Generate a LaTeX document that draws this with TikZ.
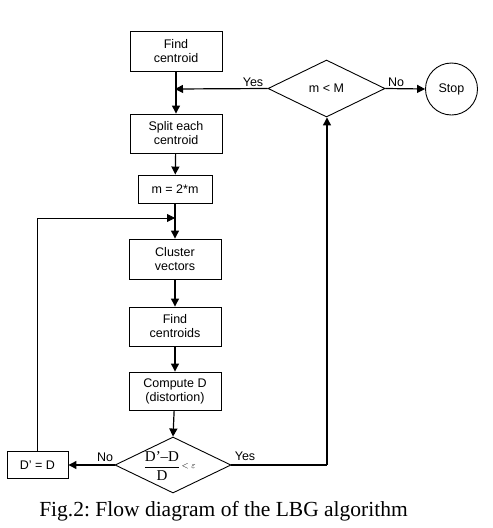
\documentclass[tikz,border=0pt]{standalone}
\usepackage{fontspec}
\setmainfont{Liberation Serif}
\setsansfont{Liberation Sans}
\usetikzlibrary{shapes.geometric,arrows.meta}
\tikzset{
  procbox/.style={draw, line width=0.9pt, inner sep=0pt, align=center, font=\sffamily\fontsize{12.5}{14}\selectfont},
  decide/.style={draw, shape=diamond, line width=0.9pt, inner sep=0pt, align=center},
  flow/.style={line width=1.2pt, -{Triangle[length=8pt,width=8pt]}},
  flowline/.style={line width=1.1pt},
  thinflow/.style={line width=0.8pt, -{Triangle[length=8pt,width=8pt]}},
  thinline/.style={line width=0.8pt},
  lbl/.style={font=\sffamily\fontsize{12.5}{14}\selectfont, inner sep=0pt}
}
\begin{document}
\frenchspacing
\begin{tikzpicture}[x=1pt,y=-1pt]
\useasboundingbox (0,0) rectangle (493,528);
\node[procbox, minimum width=92pt, minimum height=40pt] (fc) at (176,51) {Find\\centroid};
\node[procbox, minimum width=92pt, minimum height=39pt] (split) at (176,133.5) {Split each\\centroid};
\node[procbox, minimum width=74pt, minimum height=28pt] (mm) at (175,189) {m = 2*m};
\node[procbox, minimum width=92pt, minimum height=40pt] (cv) at (175,259) {Cluster\\vectors};
\node[procbox, minimum width=92pt, minimum height=39pt] (fcs) at (175,326.5) {Find\\centroids};
\node[procbox, minimum width=92pt, minimum height=38pt] (cd) at (175,391) {Compute D\\(distortion)};
\node[procbox, minimum width=61pt, minimum height=27pt] (dd) at (37.5,465) {D' = D};
\node[decide, minimum width=117pt, minimum height=57pt, font=\sffamily\fontsize{12.5}{14}\selectfont] (mM) at (326.5,88.5) {m < M};
\node[draw, circle, line width=0.9pt, minimum size=52pt, inner sep=0pt, font=\sffamily\fontsize{12.5}{14}\selectfont] (stop) at (451.5,89) {Stop};
\node[decide, minimum width=116pt, minimum height=56pt] (dec) at (173,465) {};
\node[inner sep=0pt, font=\fontsize{15}{17}\selectfont] (frac) at (162,466) {$\displaystyle\frac{\mbox{D'–D}}{\mbox{D}}$};
\node[inner sep=0pt, font=\fontsize{9}{10}\selectfont, anchor=west] (eps) at ([xshift=1pt]frac.east) {$<\varepsilon$};
\coordinate (j1) at (175,89);
\coordinate (j2) at (175,218);
\coordinate (lc) at (37.5,218);
\coordinate (yc) at (327,465);
% connectors
\draw[flow] (fc) -- (split);
\draw[flow] (split) -- (mm);
\draw[flow] (mM.west) -- (j1);
\draw[flow] (mM.east) -- (stop.west);
\draw[flow] (mm) -- (cv);
\draw[thinline] (dd.north) -- (lc);
\draw[thinflow] (lc) -- (j2);
\draw[flow] (cv) -- (fcs);
\draw[flow] (fcs) -- (cd);
\draw[flow] (cd) -- (dec.north);
\draw[flow] (dec.west) -- (dd.east);
\draw[flowline] (dec.east) -- (yc);
\draw[flow] (yc) -- (mM.south -| yc);
% labels
\node[lbl] (ly1) at (253,82) {Yes};
\node[lbl] (ln1) at (396,82) {No};
\node[lbl] (ln2) at (105,457) {No};
\node[lbl] (ly2) at (245,456) {Yes};
\node[inner sep=0pt, font=\fontsize{21.5}{24}\selectfont] (cap) at (223.5,511) {Fig.2: Flow diagram of the LBG algorithm};
\end{tikzpicture}
\end{document}
